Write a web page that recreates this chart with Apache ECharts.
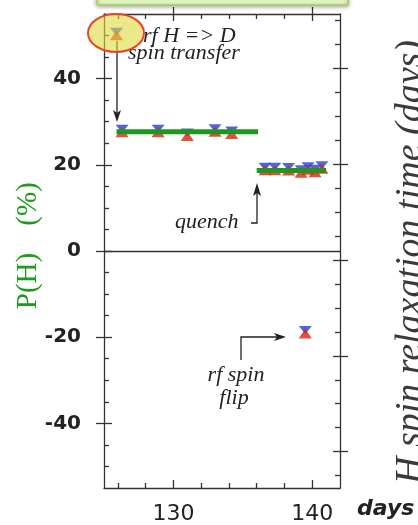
<!DOCTYPE html>
<html>
<head>
<meta charset="utf-8">
<script src="https://cdn.jsdelivr.net/npm/echarts@6/dist/echarts.min.js"></script>
<style>html,body{margin:0;padding:0;background:#fff}#c{width:418px;height:525px}</style>
</head>
<body>
<div id="c"></div>
<script>
// ---- data ----
var daysBefore = [126.3, 128.9, 131.0, 133.0, 134.2];
var polBefore  = [27.8, 27.8, 26.9, 27.9, 27.4];
var daysAfter  = [136.6, 137.3, 138.3, 139.2, 139.7, 140.2, 140.7];
var polAfter   = [19.0, 19.0, 18.9, 18.4, 19.1, 18.5, 19.3];
var daysSpecial = [125.9, 139.5];   // after rf H=>D transfer, after rf spin flip
var polSpecial  = [50.3, -18.9];
var fitBeforeX = [125.9, 136.1], fitBeforeY = 27.7;
var fitAfterX  = [136.0, 141.0], fitAfterY  = 18.7;
var xMajorTicks = [130, 140];
var xMinorTicks = [126, 128, 132, 134, 136, 138];
var yMajorTicks = [-40, -20, 0, 20, 40];
var yMinorTicks = [-50, -45, -35, -30, -25, -15, -10, -5, 5, 10, 15, 25, 30, 35, 45, 50];
var rMajorTicks = [0.38, 1.38, 2.38, 3.38, 4.38];
var rMinorTicks = [0.13, 0.63, 0.88, 1.13, 1.63, 1.88, 2.13, 2.63, 2.88, 3.13, 3.63, 3.88, 4.13, 4.63, 4.88];

var allDays = daysBefore.concat(daysAfter, daysSpecial);
var allPol  = polBefore.concat(polAfter, polSpecial);
var pts = allDays.map(function (d, i) { return [d, allPol[i]]; });

var AX = '#333';
function xa(pos, ticks, inside, len, showLine, label) {
  return {
    type: 'value', position: pos, min: 125, max: 142, gridIndex: 0,
    axisLine: { show: showLine, onZero: false, lineStyle: { color: AX, width: 1.3 } },
    axisTick: { show: true, customValues: ticks, inside: inside, length: len, lineStyle: { color: AX, width: 1.3 } },
    axisLabel: label ? { show: true, customValues: ticks, color: '#222', fontFamily: 'DejaVu Sans', fontSize: 22, margin: 15 } : { show: false },
    splitLine: { show: false }
  };
}
function ya(pos, min, max, ticks, inside, len, showLine, label) {
  return {
    type: 'value', position: pos, min: min, max: max, gridIndex: 0,
    axisLine: { show: showLine, onZero: false, lineStyle: { color: AX, width: 1.3 } },
    axisTick: { show: true, customValues: ticks, inside: inside, length: len, lineStyle: { color: AX, width: 1.3 } },
    axisLabel: label ? { show: true, customValues: ticks, color: '#222', fontFamily: 'DejaVu Sans', fontWeight: 'bold', fontSize: 20, margin: 23 } : { show: false },
    splitLine: { show: false }
  };
}
function txt(x, y, s, font, align, extra) {
  var o = { type: 'text', z: 60, style: { x: x, y: y, text: s, font: font, fill: '#222',
    textAlign: align || 'left', textVerticalAlign: 'middle', verticalAlign: 'middle' } };
  if (extra) for (var k in extra) o[k] = extra[k];
  return o;
}
var SERIF_I = 'italic 22px "Liberation Serif"';

var chart = echarts.init(document.getElementById('c'), null, { renderer: 'canvas' });
chart.setOption({
  backgroundColor: '#fff',
  animation: false,
  grid: { left: 104, top: 14, right: 78, bottom: 31, containLabel: false },
  xAxis: [
    xa('bottom', xMajorTicks, true, 8, true, true),
    xa('bottom', xMinorTicks, true, 5, false, false),
    xa('top', xMajorTicks, false, 7, true, false),
    xa('top', xMajorTicks, true, 7, false, false),
    xa('top', xMinorTicks, true, 5, false, false)
  ],
  yAxis: [
    ya('left', -55, 55, yMajorTicks, true, 8, true, true),
    ya('left', -55, 55, yMajorTicks, false, 8, false, false),
    ya('left', -55, 55, yMinorTicks, true, 5, false, false),
    ya('right', 0, 4.948, rMajorTicks, true, 7, true, false),
    ya('right', 0, 4.948, rMajorTicks, false, 8, false, false),
    ya('right', 0, 4.948, rMinorTicks, true, 5, false, false)
  ],
  series: [
    {
      type: 'scatter', xAxisIndex: 0, yAxisIndex: 0, z: 2,
      symbol: 'triangle', symbolRotate: 180, symbolSize: [13, 8], symbolOffset: [0, -2.5],
      itemStyle: { color: '#2a3bd8' }, data: pts
    },
    {
      type: 'scatter', xAxisIndex: 0, yAxisIndex: 0, z: 3,
      symbol: 'triangle', symbolSize: [13, 10], symbolOffset: [0, 1],
      itemStyle: { color: '#d8230f' }, data: pts,
      markLine: {
        silent: true, symbol: 'none', label: { show: false },
        lineStyle: { color: '#333', width: 1.3, type: 'solid' },
        data: [{ yAxis: 0 }]
      }
    },
    {
      type: 'line', xAxisIndex: 0, yAxisIndex: 0, z: 4, showSymbol: false,
      lineStyle: { color: '#1f961f', width: 5 },
      data: fitBeforeX.map(function (x) { return [x, fitBeforeY]; })
    },
    {
      type: 'line', xAxisIndex: 0, yAxisIndex: 0, z: 4, showSymbol: false,
      lineStyle: { color: '#1f961f', width: 5 },
      data: fitAfterX.map(function (x) { return [x, fitAfterY]; })
    }
  ],
  graphic: [
    // top callout box
    { type: 'rect', z: 50, shape: { x: 97, y: -10, width: 251, height: 15, r: 1 },
      style: { fill: '#e2f6c6', stroke: '#a2d062', lineWidth: 1.5, shadowBlur: 4, shadowColor: 'rgba(0,0,0,0.35)', shadowOffsetY: 1 } },
    // annotations
    txt(143, 36, 'rf H => D', SERIF_I),
    txt(128, 53, 'spin transfer', SERIF_I),
    txt(175, 222, 'quench', SERIF_I),
    txt(236, 375, 'rf spin', SERIF_I, 'center'),
    txt(234, 398, 'flip', SERIF_I, 'center'),
    // arrows
    { type: 'polyline', z: 60, shape: { points: [[117, 41], [117, 116]] }, style: { stroke: '#222', lineWidth: 1.3, fill: null } },
    { type: 'polygon', z: 60, shape: { points: [[113, 110], [117, 122], [121, 110], [117, 113]] }, style: { fill: '#222' } },
    { type: 'polyline', z: 60, shape: { points: [[251, 223], [257, 223], [257, 190]] }, style: { stroke: '#222', lineWidth: 1.3, fill: null } },
    { type: 'polygon', z: 60, shape: { points: [[253, 196], [257, 183], [261, 196], [257, 193]] }, style: { fill: '#222' } },
    { type: 'polyline', z: 60, shape: { points: [[241, 360], [241, 337], [280, 337]] }, style: { stroke: '#222', lineWidth: 1.3, fill: null } },
    { type: 'polygon', z: 60, shape: { points: [[274, 333], [286, 337], [274, 341], [277, 337]] }, style: { fill: '#222' } },
    // highlight ellipse
    { type: 'ellipse', z: 100, shape: { cx: 116, cy: 33, rx: 28, ry: 19 },
      style: { fill: 'rgba(222,218,60,0.6)', stroke: '#e8432b', lineWidth: 2 } },
    // axis titles
    { type: 'text', z: 60, x: 28, y: 281, rotation: Math.PI / 2,
      style: { x: 0, y: 0, text: 'P(H)', font: '29px "Liberation Serif"', fill: '#1f9a1f', textAlign: 'center', textVerticalAlign: 'middle', verticalAlign: 'middle' } },
    { type: 'text', z: 60, x: 28, y: 204, rotation: Math.PI / 2,
      style: { x: 0, y: 0, text: '(%)', font: '29px "Liberation Serif"', fill: '#1f9a1f', textAlign: 'center', textVerticalAlign: 'middle', verticalAlign: 'middle' } },
    { type: 'text', z: 60, x: 411, y: 262, rotation: Math.PI / 2,
      style: { x: 0, y: 0, text: 'H spin relaxation time (days)', font: 'italic 38px "Liberation Serif"', fill: '#3a3a3a', textAlign: 'center', textVerticalAlign: 'middle', verticalAlign: 'middle' } },
    txt(357, 509, 'days', 'italic bold 22px "DejaVu Sans"', 'left')
  ]
});
</script>
</body>
</html>
